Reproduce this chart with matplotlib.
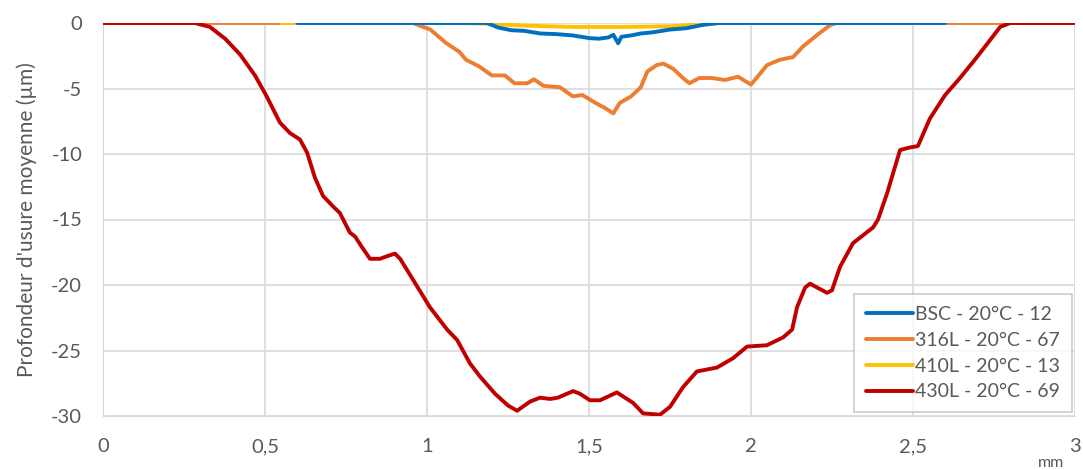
import matplotlib
matplotlib.use("Agg")
import matplotlib.pyplot as plt

plt.rcParams['font.family'] = ['Lato', 'DejaVu Sans']
plt.rcParams['axes.unicode_minus'] = False

# ---- data (x in mm, y in µm) ----
labels = ["BSC - 20°C - 12", "316L - 20°C - 67", "410L - 20°C - 13", "430L - 20°C - 69"]
colors = ["#0070C0", "#ED7D31", "#FFC000", "#C00000"]

bsc_x = [0.60, 1.00, 1.185, 1.22, 1.26, 1.30, 1.35, 1.40, 1.45, 1.50, 1.53, 1.56, 1.575,
         1.59, 1.60, 1.63, 1.66, 1.70, 1.75, 1.80, 1.85, 1.90, 2.20, 2.60]
bsc_y = [0.0, 0.0, 0.0, -0.35, -0.55, -0.6, -0.8, -0.85, -0.95, -1.15, -1.2, -1.1, -0.9,
         -1.55, -1.05, -0.95, -0.8, -0.7, -0.5, -0.4, -0.15, 0.0, 0.0, 0.0]

s316_x = [0.0, 0.957, 1.01, 1.06, 1.10, 1.12, 1.16, 1.20, 1.24, 1.27, 1.31, 1.33, 1.36, 1.41,
          1.45, 1.48, 1.52, 1.55, 1.575, 1.595, 1.63, 1.66, 1.68, 1.71, 1.73, 1.76, 1.79, 1.81,
          1.84, 1.88, 1.92, 1.96, 2.00, 2.05, 2.09, 2.13, 2.16, 2.21, 2.245, 2.265, 3.0]
s316_y = [0.0, 0.0, -0.5, -1.55, -2.2, -2.8, -3.3, -4.0, -4.0, -4.6, -4.6, -4.3, -4.8, -4.9,
          -5.6, -5.5, -6.1, -6.5, -6.9, -6.1, -5.6, -4.9, -3.7, -3.2, -3.1, -3.5, -4.2, -4.6,
          -4.2, -4.2, -4.35, -4.1, -4.7, -3.2, -2.8, -2.6, -1.8, -0.8, -0.15, 0.0, 0.0]

s410_x = [0.55, 1.10, 1.18, 1.30, 1.45, 1.60, 1.75, 1.85, 1.90, 2.60]
s410_y = [0.0, 0.0, -0.05, -0.2, -0.3, -0.3, -0.25, -0.1, 0.0, 0.0]

s430_x = [0.0, 0.284, 0.33, 0.377, 0.423, 0.469, 0.503, 0.546, 0.577, 0.608, 0.630, 0.654,
          0.679, 0.71, 0.731, 0.762, 0.778, 0.799, 0.824, 0.855, 0.877, 0.901, 0.917, 0.957,
          1.009, 1.062, 1.093, 1.133, 1.164, 1.21, 1.25, 1.278, 1.318, 1.349, 1.38, 1.404,
          1.451, 1.472, 1.503, 1.534, 1.586, 1.636, 1.667, 1.719, 1.75, 1.79, 1.833, 1.895,
          1.944, 1.988, 2.049, 2.099, 2.127, 2.142, 2.167, 2.182, 2.235, 2.25, 2.275, 2.315,
          2.377, 2.392, 2.42, 2.46, 2.49, 2.515, 2.552, 2.599, 2.645, 2.691, 2.738, 2.769,
          2.80, 3.0]
s430_y = [0.0, 0.0, -0.3, -1.2, -2.4, -4.0, -5.5, -7.6, -8.4, -8.9, -9.9, -11.8,
          -13.2, -14.0, -14.5, -16.0, -16.3, -17.1, -18.0, -18.0, -17.8, -17.6, -18.0, -19.6,
          -21.7, -23.4, -24.2, -26.0, -27.0, -28.3, -29.2, -29.6, -28.9, -28.6, -28.7, -28.6,
          -28.1, -28.3, -28.8, -28.8, -28.2, -29.0, -29.8, -29.9, -29.3, -27.8, -26.6, -26.3,
          -25.6, -24.7, -24.6, -24.0, -23.4, -21.7, -20.2, -19.9, -20.6, -20.4, -18.6, -16.8,
          -15.6, -15.0, -13.0, -9.7, -9.5, -9.4, -7.3, -5.5, -4.2, -2.8, -1.3, -0.3,
          0.0, 0.0]

x_ticks = [0, 0.5, 1, 1.5, 2, 2.5, 3]
x_tick_labels = ["0", "0,5", "1", "1,5", "2", "2,5", "3"]
y_ticks = [0, -5, -10, -15, -20, -25, -30]

# ---- figure ----
fig = plt.figure(figsize=(10.83, 4.70), dpi=100)
ax = fig.add_axes([103/1083, 1 - 416/470, (1075-103)/1083, (416-23)/470])

series = [(bsc_x, bsc_y, 4), (s316_x, s316_y, 2), (s410_x, s410_y, 3), (s430_x, s430_y, 5)]
for (xs, ys, z), lab, col in zip(series, labels, colors):
    ax.plot(xs, ys, color=col, lw=2.8, label=lab, zorder=z, solid_capstyle='round')

ax.set_xlim(0, 3)
ax.set_ylim(-30, 0)
ax.set_xticks(x_ticks)
ax.set_xticklabels(x_tick_labels)
ax.set_yticks(y_ticks)
ax.grid(True, color="#d9d9d9", lw=1.2, zorder=0)
ax.set_axisbelow(True)
for s in ["top", "right"]:
    ax.spines[s].set_visible(False)
ax.spines["left"].set_color("#d9d9d9")
ax.spines["bottom"].set_color("#d9d9d9")
ax.tick_params(length=0, labelsize=14.5, colors="#595959")
ax.tick_params(axis='x', pad=16)
ax.tick_params(axis='y', pad=15)

ax.set_ylabel("Profondeur d'usure moyenne (µm)", fontsize=15, color="#595959", labelpad=10)
fig.text(1051/1083, 1 - 463/470, "mm", fontsize=11.5, color="#595959", ha="center", va="center")

leg = ax.legend(loc="lower right", fontsize=14, frameon=True, fancybox=False,
                edgecolor="#bfbfbf", handlelength=2.4, handletextpad=0.15, labelspacing=0.45,
                borderpad=0.6, borderaxespad=0.0, labelcolor="#595959")
leg.get_frame().set_linewidth(1.2)
leg.set_bbox_to_anchor((1072/1083, 1 - 412/470), transform=fig.transFigure)
leg.set_zorder(10)

fig.savefig("out.png", dpi=100, facecolor="white")
